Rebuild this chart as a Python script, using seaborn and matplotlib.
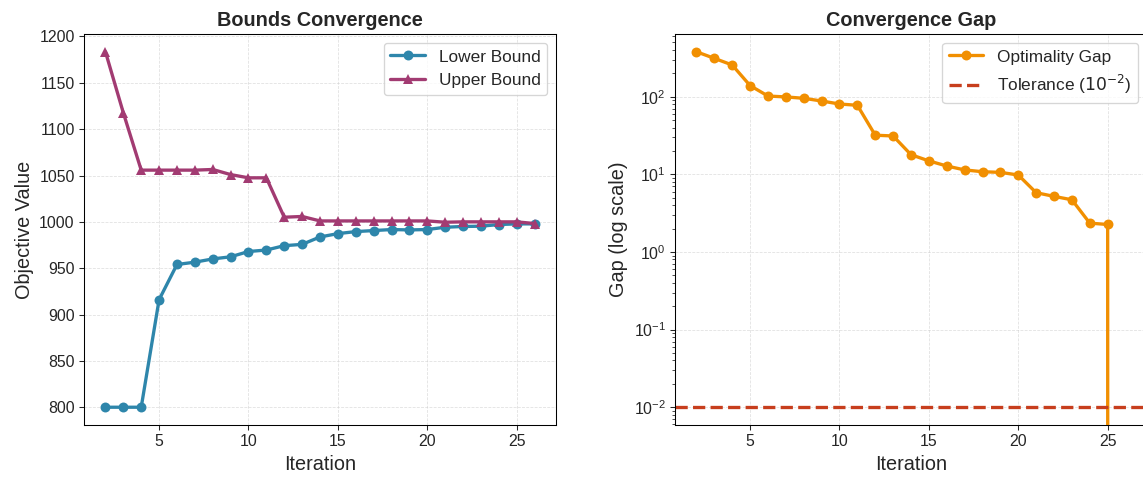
import pandas as pd
import numpy as np
import matplotlib.pyplot as plt
import seaborn as sns

iterations = list(range(2, 27))
lower_bound = [800, 800, 800, 916, 954, 956.5, 960, 962.3, 968, 969.6, 974.3, 975.7,
               983.7, 987.3, 989.5, 990.6, 991.7, 991.3, 991.7, 994.2, 995, 995.3,
               997.1, 997.8, 997.8]
upper_bound = [1183.5, 1117.6, 1055.8, 1055.8, 1055.8, 1055.8, 1056.5, 1051, 1047.5,
               1047.5, 1005, 1005.8, 1001, 1001, 1001, 1001, 1001, 1001, 1001, 999.6,
               1000, 1000, 1000, 1000, 998.2]
optimality_gap = [379, 312, 256, 139, 102, 99.3, 95.4, 88, 80.5, 77.5, 31.9, 31.2,
                  17.9, 14.9, 12.8, 11.4, 10.8, 10.6, 9.8, 5.8, 5.2, 4.7, 2.35, 2.26, 0]
tolerance = 1e-2

C_LB = "#2E86AB"
C_UB = "#A23B72"
C_GAP = "#F18F01"
C_TOL = "#C73E1D"

df = pd.DataFrame({"iteration": iterations, "lower": lower_bound,
                   "upper": upper_bound, "gap": optimality_gap})

sns.set_style("ticks")
plt.rcParams["font.family"] = ["Liberation Sans", "DejaVu Sans"]

W, H, DPI = 1143, 477, 95.25
fig = plt.figure(figsize=(W / DPI, H / DPI), dpi=DPI)
ax1 = fig.add_axes([84 / W, (H - 425) / H, 472 / W, 391 / H])
ax2 = fig.add_axes([675 / W, (H - 425) / H, 472 / W, 391 / H])

line_kws = dict(linewidth=2.5, markersize=7.5, markeredgewidth=0, errorbar=None)

# bounds
sns.lineplot(data=df, x="iteration", y="lower", ax=ax1, color=C_LB, marker="o",
             label="Lower Bound", **line_kws)
sns.lineplot(data=df, x="iteration", y="upper", ax=ax1, color=C_UB, marker="^",
             label="Upper Bound", **line_kws)
ax1.set_title("Bounds Convergence", fontsize=15, fontweight="bold")
ax1.set_xlabel("Iteration", fontsize=15)
ax1.set_ylabel("Objective Value", fontsize=15)
ax1.legend(loc="upper right", fontsize=13)

# gap
sns.lineplot(data=df, x="iteration", y="gap", ax=ax2, color=C_GAP, marker="o",
             label="Optimality Gap", **line_kws)
ax2.axhline(tolerance, color=C_TOL, linestyle="--", linewidth=2.5,
            label="Tolerance ($10^{-2}$)")
ax2.set_yscale("log")
ax2.set_title("Convergence Gap", fontsize=15, fontweight="bold")
ax2.set_xlabel("Iteration", fontsize=15)
ax2.set_ylabel("Gap (log scale)", fontsize=15)
ax2.legend(loc="upper right", fontsize=13)

for ax in (ax1, ax2):
    ax.grid(True, linestyle="--", linewidth=0.6, alpha=0.6)
    ax.tick_params(labelsize=12)
    ax.set_xticks([5, 10, 15, 20, 25])
    for s in ax.spines.values():
        s.set_visible(True)
        s.set_color("black")

fig.savefig("out.png", dpi=DPI)
